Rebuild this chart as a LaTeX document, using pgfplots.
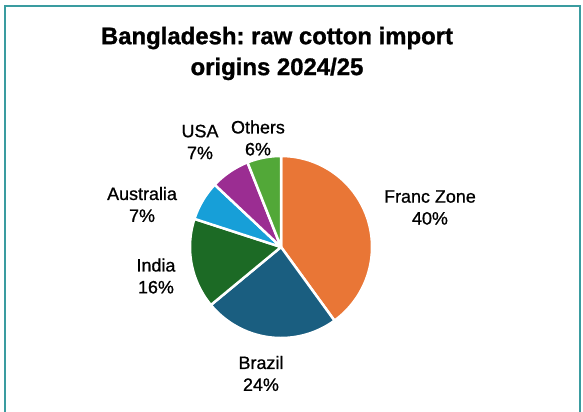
\documentclass[border=0pt]{standalone}
\usepackage{pgfplots}
\pgfplotsset{compat=1.18}
\usepackage{pgfplotstable}
\usepackage{fontspec}
\setmainfont{Liberation Sans}
\newfontfamily\labfont{Liberation Sans}[FakeBold=0.9]
\newfontfamily\titfont{Liberation Sans Bold}[FakeBold=1.2]
\frenchspacing
\definecolor{cFranc}{HTML}{E97636}
\definecolor{cBrazil}{HTML}{1A5E80}
\definecolor{cIndia}{HTML}{1C6A25}
\definecolor{cAus}{HTML}{179FD8}
\definecolor{cUSA}{HTML}{9B2D92}
\definecolor{cOthers}{HTML}{52A838}
\definecolor{cBorder}{HTML}{3A9CA0}
\pgfplotstableread{
label value color
FrancZone 40 cFranc
Brazil 24 cBrazil
India 16 cIndia
Australia 7 cAus
USA 7 cUSA
Others 6 cOthers
}\piedata
\begin{document}
\begin{tikzpicture}[x=1bp,y=1bp]
\useasboundingbox (0,0) rectangle (583,411);
\draw[cBorder, line width=2bp] (5,-10) -- (5,405) -- (580,405) -- (580,-10);
\node[font=\fontsize{24}{31}\selectfont\titfont, align=center] at (277,357.5) {Bangladesh: raw cotton import\\origins 2024/25};
\begin{axis}[at={(281bp,164bp)}, anchor=center, scale only axis,
  width=182bp, height=182bp, xmin=-1, xmax=1, ymin=-1, ymax=1,
  hide axis, clip=false]
\gdef\startang{90}
\pgfplotsforeachungrouped \i in {0,...,5}{%
  \pgfplotstablegetelem{\i}{value}\of\piedata \let\v=\pgfplotsretval
  \pgfplotstablegetelem{\i}{color}\of\piedata \let\c=\pgfplotsretval
  \pgfmathsetmacro\endang{\startang - 3.6*\v}%
  \edef\doplot{\noexpand\addplot[fill=\c, draw=white, line width=2.5bp, line join=round, domain=\endang:\startang, samples=80] ({cos(x)},{sin(x)}) -- (0,0) -- cycle;}%
  \doplot
  \global\let\startang\endang
}
\begin{scope}[font=\fontsize{18}{22}\selectfont\labfont]
\node[align=center] at (axis cs:1.637,0.434) {Franc Zone\\40\%};
\node[align=center] at (axis cs:-0.22,-1.39) {Brazil\\24\%};
\node[align=center] at (axis cs:-1.374,-0.319) {India\\16\%};
\node[align=center] at (axis cs:-1.527,0.467) {Australia\\7\%};
\node[align=center] at (axis cs:-0.89,1.154) {USA\\7\%};
\node[align=center] at (axis cs:-0.253,1.198) {Others\\6\%};
\end{scope}
\end{axis}
\end{tikzpicture}
\end{document}
